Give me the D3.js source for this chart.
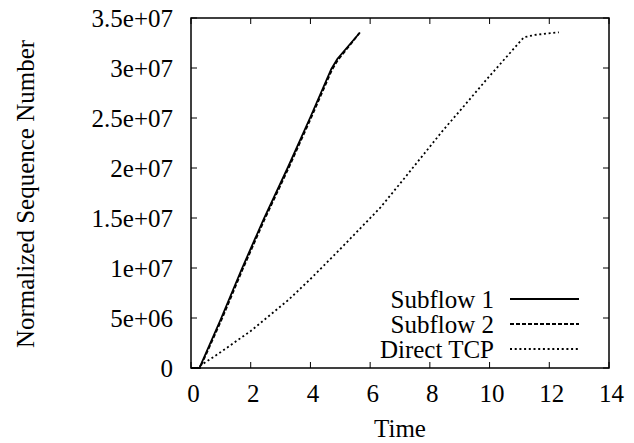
<!DOCTYPE html>
<html>
<head>
<meta charset="utf-8">
<script src="https://cdn.jsdelivr.net/npm/d3@7"></script>
<style>
  html, body { margin: 0; padding: 0; background: #fff; }
  svg { display: block; font-family: "Liberation Serif", "Times New Roman", serif; }
</style>
</head>
<body>
<svg id="chart" width="634" height="443"></svg>
<script>
// Sequence-number progress over time: two MPTCP subflows and a direct TCP transfer
const seriesNames = ["Subflow 1", "Subflow 2", "Direct TCP"];

const subflow1Time = [0, 0.28, 1.0, 1.7, 2.45, 3.25, 4.0, 4.7, 4.9, 5.3, 5.66];
const subflow1Seq  = [0, 0, 4.9e6, 9.9e6, 15.0e6, 20.1e6, 25.1e6, 29.9e6, 30.9e6, 32.3e6, 33.55e6];

const subflow2Time = [0, 0.3, 1.02, 1.72, 2.47, 3.27, 4.02, 4.72, 4.92, 5.3, 5.64];
const subflow2Seq  = [0, 0, 4.8e6, 9.8e6, 14.9e6, 20.0e6, 25.0e6, 29.8e6, 30.8e6, 32.2e6, 33.5e6];

const directTime = [0, 0.2, 1.0, 2.0, 3.26, 4.0, 5.0, 6.33, 7.1, 8.45, 9.0, 10.0, 11.15, 11.5, 12.32];
const directSeq  = [0, 0, 1.6e6, 3.7e6, 6.8e6, 8.9e6, 11.9e6, 16.0e6, 18.8e6, 23.8e6, 25.7e6, 29.2e6, 33.07e6, 33.3e6, 33.57e6];

const xTicks = [0, 2, 4, 6, 8, 10, 12, 14];
const yTicks = [0, 5e6, 1e7, 1.5e7, 2e7, 2.5e7, 3e7, 3.5e7];
const yTickLabels = ["0", "5e+06", "1e+07", "1.5e+07", "2e+07", "2.5e+07", "3e+07", "3.5e+07"];

const series = [
  { name: seriesNames[0], t: subflow1Time, v: subflow1Seq, dash: null },
  { name: seriesNames[1], t: subflow2Time, v: subflow2Seq, dash: "4,2" },
  { name: seriesNames[2], t: directTime,   v: directSeq,   dash: "2,2.7" }
];

const svg = d3.select("#chart");
const plotLeft = 191, plotRight = 609, plotTop = 18, plotBottom = 368;

const x = d3.scaleLinear().domain([0, 14]).range([plotLeft, plotRight]);
const y = d3.scaleLinear().domain([0, 3.5e7]).range([plotBottom, plotTop]);

const fontSize = 25;
const tickLen = 6;

// Ticks: inward, mirrored on top and right
const tickG = svg.append("g").attr("stroke", "#000").attr("stroke-width", 1);
xTicks.forEach(t => {
  tickG.append("line").attr("x1", x(t)).attr("x2", x(t)).attr("y1", plotBottom).attr("y2", plotBottom - tickLen);
  tickG.append("line").attr("x1", x(t)).attr("x2", x(t)).attr("y1", plotTop).attr("y2", plotTop + tickLen);
});
yTicks.forEach(v => {
  tickG.append("line").attr("x1", plotLeft).attr("x2", plotLeft + tickLen).attr("y1", y(v)).attr("y2", y(v));
  tickG.append("line").attr("x1", plotRight).attr("x2", plotRight - tickLen).attr("y1", y(v)).attr("y2", y(v));
});

// Tick labels
svg.append("g").selectAll("text").data(xTicks).join("text")
  .attr("x", d => x(d) + 2.5).attr("y", plotBottom + 34)
  .attr("text-anchor", "middle").attr("font-size", fontSize)
  .text(d => d);

svg.append("g").selectAll("text").data(yTicks).join("text")
  .attr("x", 173).attr("y", d => y(d)).attr("dy", "0.35em")
  .attr("text-anchor", "end").attr("font-size", fontSize)
  .text((d, i) => yTickLabels[i]);

// Axis titles
svg.append("text").attr("x", (plotLeft + plotRight) / 2).attr("y", 437)
  .attr("text-anchor", "middle").attr("font-size", fontSize).text("Time");
svg.append("text")
  .attr("transform", `translate(34,${(plotTop + plotBottom) / 2 + 1}) rotate(-90)`)
  .attr("text-anchor", "middle").attr("font-size", fontSize)
  .text("Normalized Sequence Number");

// Data lines
const line = d3.line().x(d => x(d[0])).y(d => y(d[1]));
series.forEach(s => {
  const pts = s.t.map((t, i) => [t, s.v[i]]);
  svg.append("path").datum(pts)
    .attr("d", line)
    .attr("fill", "none").attr("stroke", "#000").attr("stroke-width", 1.8)
    .attr("stroke-dasharray", s.dash);
});

// Legend
const legendY = [299, 324, 349];
series.forEach((s, i) => {
  svg.append("text").attr("x", 494).attr("y", legendY[i]).attr("dy", "0.35em")
    .attr("text-anchor", "end").attr("font-size", fontSize).text(s.name);
  svg.append("line").attr("x1", 510).attr("x2", 579).attr("y1", legendY[i]).attr("y2", legendY[i])
    .attr("stroke", "#000").attr("stroke-width", 1.8).attr("stroke-dasharray", s.dash);
});

// Plot border
svg.append("rect").attr("x", plotLeft).attr("y", plotTop)
  .attr("width", plotRight - plotLeft).attr("height", plotBottom - plotTop)
  .attr("fill", "none").attr("stroke", "#000").attr("stroke-width", 1.5);
</script>
</body>
</html>
